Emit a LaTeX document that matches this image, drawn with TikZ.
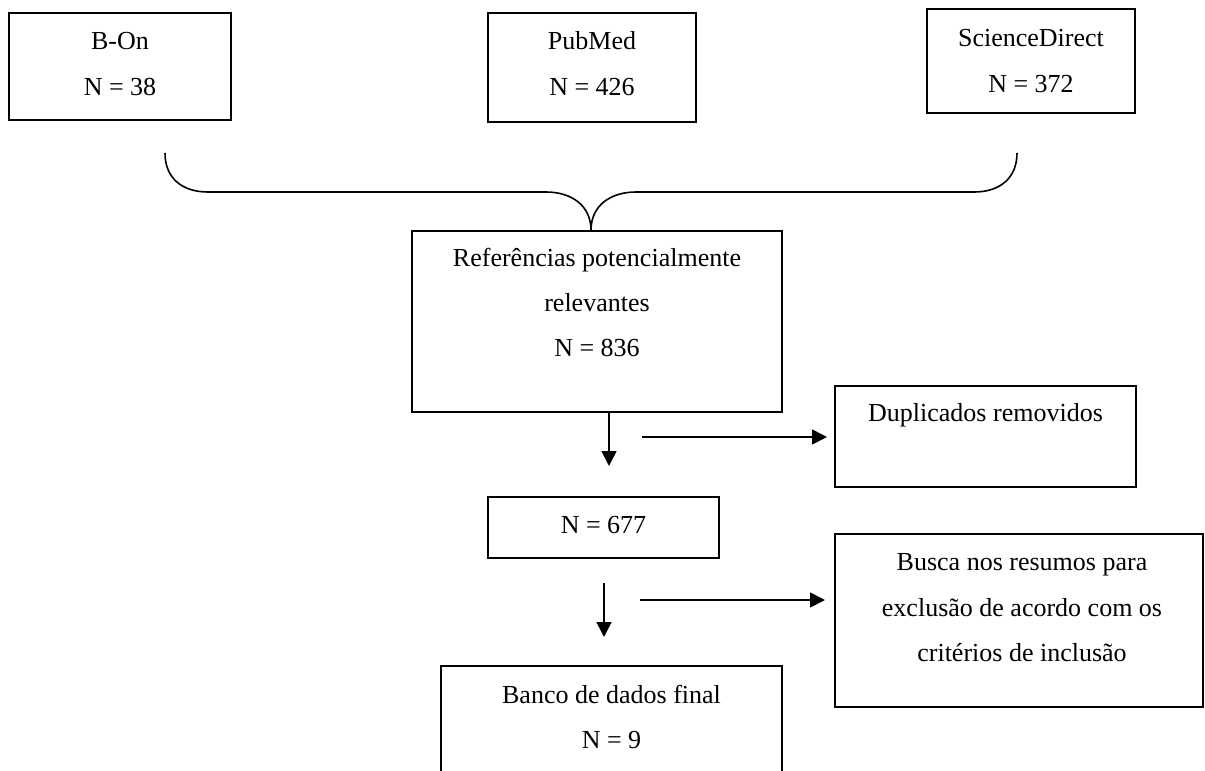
\documentclass[tikz,border=0pt]{standalone}
\usepackage{fontspec}
\setmainfont{Liberation Serif}
\usetikzlibrary{arrows.meta}
\tikzset{
  box/.style={draw=black, line width=1.6pt, inner sep=0pt, rectangle},
  txt/.style={anchor=base, inner sep=0pt, font=\fontsize{26}{30}\selectfont},
  conn/.style={line width=1.6pt},
  arr/.style={line width=1.6pt, -{Triangle[length=15pt,width=15pt]}}
}
\begin{document}
\begin{tikzpicture}[x=1pt,y=-1pt]
\clip (0,0) rectangle (1205,771);
\fill[white] (0,0) rectangle (1205,771);
% boxes
\node[box, minimum width=222pt, minimum height=107pt] (bon) at (120,66.5) {};
\node[box, minimum width=208pt, minimum height=109pt] (pub) at (592,67.5) {};
\node[box, minimum width=208pt, minimum height=104pt] (sci) at (1031,61) {};
\node[box, minimum width=370pt, minimum height=181pt] (ref) at (597,321.5) {};
\node[box, minimum width=301pt, minimum height=101pt] (dup) at (985.5,436.5) {};
\node[box, minimum width=231pt, minimum height=61pt] (n677) at (603.5,527.5) {};
\node[box, minimum width=368pt, minimum height=173pt] (busca) at (1019,620.5) {};
\node[box, minimum width=341pt, minimum height=124pt] (banco) at (611.5,728) {};
% texts
\node[txt] (bonA) at (120,49.5) {B-On};
\node[txt] (bonB) at (120,95.5) {N = 38};
\node[txt] (pubA) at (592,49.5) {PubMed};
\node[txt] (pubB) at (592,95.5) {N = 426};
\node[txt] (sciA) at (1031,46) {ScienceDirect};
\node[txt] (sciB) at (1031,92) {N = 372};
\node[txt] (refA) at (597,266.5) {Referências potencialmente};
\node[txt] (refB) at (597,311.5) {relevantes};
\node[txt] (refC) at (597,356.5) {N = 836};
\node[txt] (dupA) at (985.5,421.5) {Duplicados removidos};
\node[txt] (n677A) at (603.5,533) {N = 677};
\node[txt] (buscaA) at (1022,570) {Busca nos resumos para};
\node[txt] (buscaB) at (1022,616) {exclusão de acordo com os};
\node[txt] (buscaC) at (1022,661.5) {critérios de inclusão};
\node[txt] (bancoA) at (611.5,703) {Banco de dados final};
\node[txt] (bancoB) at (611.5,748) {N = 9};
% brace
\coordinate (bl) at (165,153);
\coordinate (br) at (1017,153);
\coordinate (cusp) at (ref.north -| 591,0);
\draw[conn] (bl) .. controls (165,178) and (182,192) .. (208,192) -- (546,192)
  .. controls (572,192) and (591,206) .. (cusp);
\draw[conn] (br) .. controls (1017,178) and (1000,192) .. (974,192) -- (636,192)
  .. controls (610,192) and (591,206) .. (cusp);
% arrows
\coordinate (a1end) at (609,466);
\draw[arr] (ref.south -| a1end) -- (a1end);
\coordinate (h1s) at (642,437);
\coordinate (h1e) at (827,437);
\draw[arr] (h1s) -- (h1e);
\coordinate (a2s) at (604,583);
\coordinate (a2e) at (604,637);
\draw[arr] (a2s) -- (a2e);
\coordinate (h2s) at (640,600);
\coordinate (h2e) at (825,600);
\draw[arr] (h2s) -- (h2e);
\end{tikzpicture}
\end{document}
